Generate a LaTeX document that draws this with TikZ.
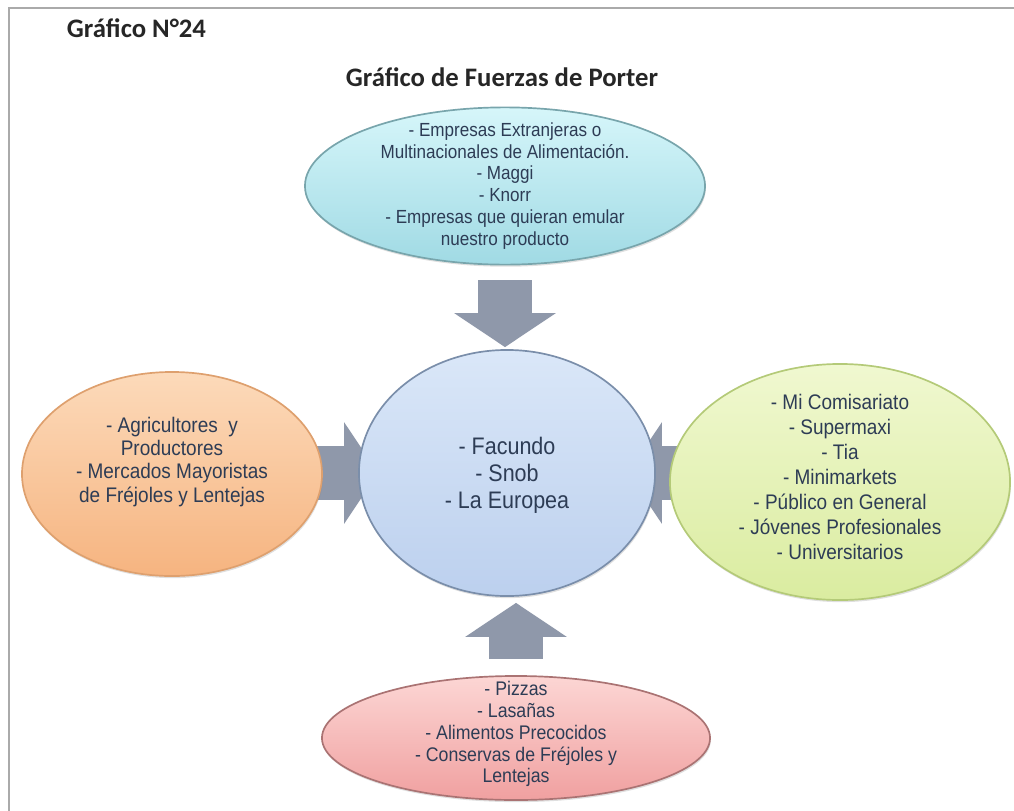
\documentclass[tikz,border=0pt]{standalone}
\usepackage{fontspec}
\newfontfamily\calibri{Carlito}
\newfontfamily\angosta[FakeStretch=0.9]{Liberation Sans}
\usetikzlibrary{shapes.geometric,arrows.meta,shadows,backgrounds}
\definecolor{tinta}{RGB}{45,60,85}
\definecolor{marco}{RGB}{170,170,170}
\definecolor{flechagris}{RGB}{143,152,170}

\begin{document}
\begin{tikzpicture}[x=0.025cm, y=-0.025cm,
  bola/.style={ellipse, line width=1.2pt, drop shadow={opacity=0.25, shadow xshift=0.6pt, shadow yshift=-1.5pt}},
  texto/.style={align=center, text=tinta, inner sep=0pt},
  titulo/.style={font=\calibri\bfseries\fontsize{19}{22}\selectfont, text=black!85},
  flecha/.style={flechagris, line width=1.33cm, -{Triangle[length=0.85cm, width=2.5cm]}}]
\useasboundingbox (0,0) rectangle (1014,810);
\draw[marco, line width=1.6pt] (9,830) -- (9,8) -- (1030,8);

\node[titulo, anchor=west] (numero) at (62,28) {Gráfico N°24};
\node[titulo] (grafico) at (502,77) {Gráfico de Fuerzas de Porter};

\node[bola, draw={rgb,255:red,120;green,165;blue,172}, top color={rgb,255:red,214;green,246;blue,250}, bottom color={rgb,255:red,160;green,218;blue,228}, minimum width=10cm, minimum height=3.93cm] (amenaza) at (505,186) {};
\node[bola, draw={rgb,255:red,122;green,142;blue,170}, top color={rgb,255:red,218;green,231;blue,248}, bottom color={rgb,255:red,188;green,208;blue,238}, minimum width=7.4cm, minimum height=6.15cm] (empresa) at (507,473) {};
\node[bola, draw={rgb,255:red,222;green,160;blue,110}, top color={rgb,255:red,252;green,218;blue,186}, bottom color={rgb,255:red,246;green,180;blue,128}, minimum width=7.5cm, minimum height=5.1cm] (proveedores) at (172,474) {};
\node[bola, draw={rgb,255:red,180;green,202;blue,120}, top color={rgb,255:red,240;green,248;blue,208}, bottom color={rgb,255:red,218;green,236;blue,160}, minimum width=8.5cm, minimum height=5.9cm] (clientes) at (840,482) {};
\node[bola, draw={rgb,255:red,170;green,115;blue,115}, top color={rgb,255:red,252;green,214;blue,212}, bottom color={rgb,255:red,240;green,160;blue,160}, minimum width=9.7cm, minimum height=3.1cm] (sustitutos) at (516,738) {};

\node[texto, font={\angosta\fontsize{13.5}{15.6}\selectfont}] (txtamenaza) at (amenaza) {- Empresas Extranjeras o\\Multinacionales de Alimentación.\\- Maggi\\- Knorr\\- Empresas que quieran emular\\nuestro producto};
\node[texto, font={\angosta\fontsize{17}{19.2}\selectfont}] (txtempresa) at (507,475) {- Facundo\\- Snob\\- La Europea};
\node[texto, font={\angosta\fontsize{15}{16.4}\selectfont}] (txtproveedores) at (172,462) {- Agricultores \ y\\Productores\\- Mercados Mayoristas\\de Fréjoles y Lentejas};
\node[texto, font={\angosta\fontsize{15}{17.8}\selectfont}] (txtclientes) at (840,477) {- Mi Comisariato\\- Supermaxi\\- Tia\\- Minimarkets\\- Público en General\\- Jóvenes Profesionales\\- Universitarios};
\node[texto, font={\angosta\fontsize{14}{15.6}\selectfont}] (txtsustitutos) at (516,734) {- Pizzas\\- Lasañas\\- Alimentos Precocidos\\- Conservas de Fréjoles y\\Lentejas};

\begin{pgfonlayer}{background}
\draw[flecha, shorten <=0.375cm, shorten >=0.05cm] (amenaza.south) -- (amenaza.south |- empresa.north);
\draw[flecha, shorten <=0.4cm, shorten >=0.15cm] (sustitutos.north) -- (sustitutos.north |- empresa.south);
\draw[flecha, shorten <=-0.4cm, shorten >=-0.5cm] (proveedores.east |- empresa) -- (empresa.west);
\draw[flecha, shorten <=-0.5cm, shorten >=-0.7cm] (clientes.west |- empresa) -- (empresa.east);
\end{pgfonlayer}
\end{tikzpicture}
\end{document}
